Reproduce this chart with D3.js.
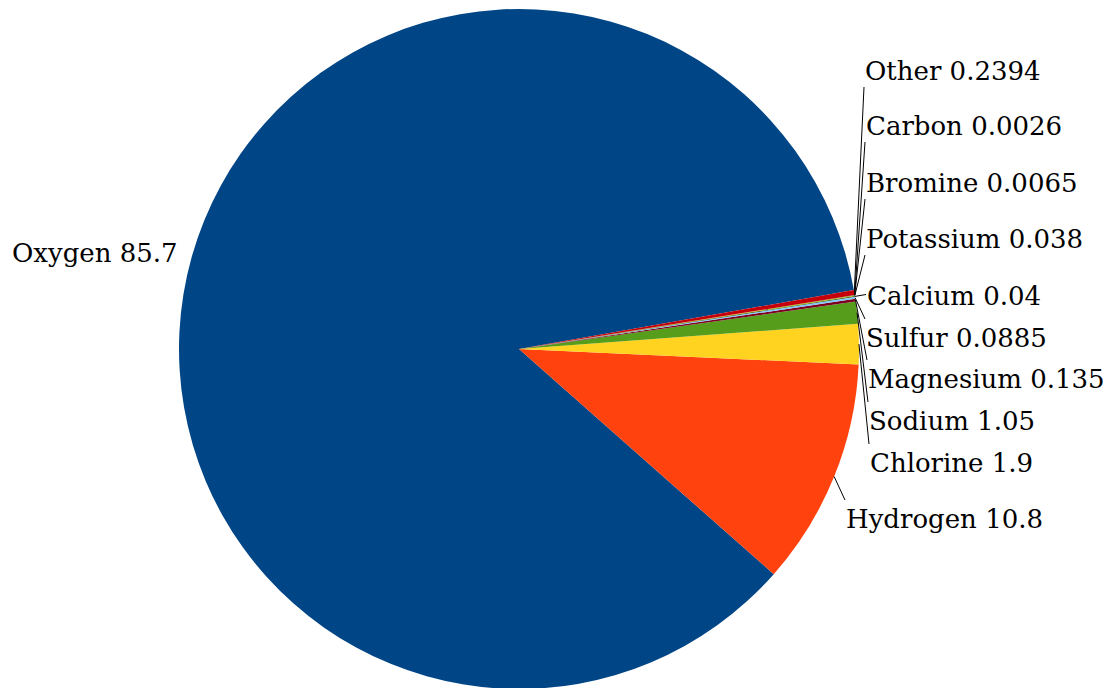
<!DOCTYPE html>
<html>
<head>
<meta charset="utf-8">
<script src="https://cdn.jsdelivr.net/npm/d3@7"></script>
<style>
  html, body { margin: 0; padding: 0; background: #fff; }
  svg { display: block; }
  .lbl { font-family: "DejaVu Serif", serif; font-size: 26px; fill: #000; }
</style>
</head>
<body>
<div id="chart"></div>
<script>
// composition of sea water, percent by mass
const elements = ["Oxygen", "Hydrogen", "Chlorine", "Sodium", "Magnesium", "Sulfur",
                  "Calcium", "Potassium", "Bromine", "Carbon", "Other"];
const values = [85.7, 10.8, 1.9, 1.05, 0.135, 0.0885, 0.04, 0.038, 0.0065, 0.0026, 0.2394];
const valueLabels = ["85.7", "10.8", "1.9", "1.05", "0.135", "0.0885", "0.04", "0.038", "0.0065", "0.0026", "0.2394"];
const colors = ["#004586", "#ff420e", "#ffd320", "#579d1c", "#7e0021", "#83caff",
                "#314004", "#aecf00", "#4b1f6f", "#ff950e", "#c5000b"];

// where each label sits (text left edge and baseline)
const labelLeft = [12, 846, 870, 869, 868, 866, 867, 866, 866, 866, 865];
const labelBase = [262, 528, 472, 430, 388, 347, 305, 248, 192, 135, 80];

const width = 1112, height = 688;
const cx = 519, cy = 349, radius = 340;
const deg = Math.PI / 180;

const svg = d3.select("#chart").append("svg")
    .attr("width", width)
    .attr("height", height);

const data = elements.map((name, i) => ({ name, value: values[i], i }));

// slices run counter-clockwise from just above 3 o'clock
const pie = d3.pie()
    .value(d => d.value)
    .sort(null)
    .startAngle(80 * deg)
    .endAngle(80 * deg - 2 * Math.PI);

const arcs = pie(data);
const arc = d3.arc().innerRadius(0).outerRadius(radius);

const g = svg.append("g").attr("transform", `translate(${cx},${cy})`);

g.selectAll("path")
    .data(arcs)
    .enter().append("path")
    .attr("d", arc)
    .attr("fill", d => colors[d.data.i]);

// leader lines from the slice edge to the label box
const lines = svg.append("g");
arcs.forEach(a => {
    const i = a.data.i;
    if (i === 0) return; // Oxygen label sits off to the left, no line
    const mid = (a.startAngle + a.endAngle) / 2;
    const px = cx + radius * Math.sin(mid);
    const py = cy - radius * Math.cos(mid);
    const top = labelBase[i] - 28, bottom = labelBase[i] + 7;
    let ty;
    if (bottom < py) ty = bottom;
    else if (top > py) ty = top;
    else ty = (top + bottom) / 2;
    lines.append("line")
        .attr("x1", px).attr("y1", py)
        .attr("x2", labelLeft[i] - 1).attr("y2", ty)
        .attr("stroke", "#000")
        .attr("stroke-width", 1);
});

svg.append("g")
    .selectAll("text")
    .data(data)
    .enter().append("text")
    .attr("class", "lbl")
    .attr("x", d => labelLeft[d.i])
    .attr("y", d => labelBase[d.i])
    .text(d => `${d.name} ${valueLabels[d.i]}`);
</script>
</body>
</html>
